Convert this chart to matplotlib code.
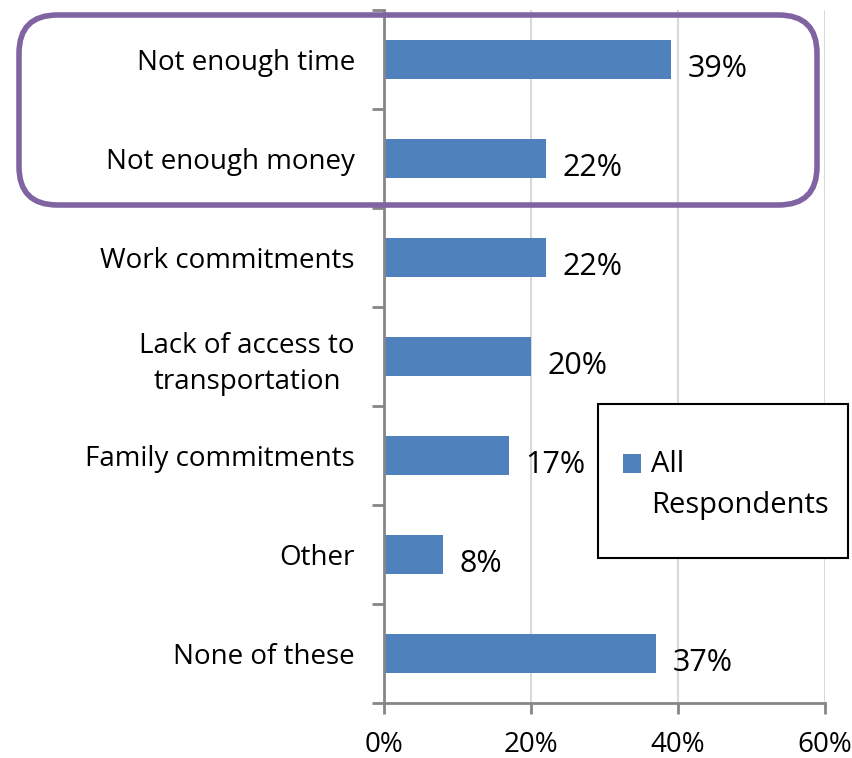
import matplotlib
matplotlib.use("Agg")
import matplotlib.pyplot as plt
from matplotlib.patches import FancyBboxPatch, Rectangle
from matplotlib.ticker import FixedLocator, PercentFormatter

plt.rcParams['font.family'] = ['Open Sans', 'DejaVu Sans']

categories = ["Not enough time", "Not enough money", "Work commitments",
              "Lack of access to\ntransportation", "Family commitments",
              "Other", "None of these"]
values = [39, 22, 22, 20, 17, 8, 37]
xticks = [0, 20, 40, 60]
series_name = "All\nRespondents"

bar_color = "#4f81bd"
axis_color = "#868686"
grid_color = "#d9d9d9"
frame_color = "#8064a2"

W, H = 852, 758
fig = plt.figure(figsize=(W / 100, H / 100), dpi=100)
ax = fig.add_axes([384 / W, 1 - 703 / H, (825 - 384) / W, (703 - 10) / H])

n = len(categories)
ypos = list(range(n))
bars = ax.barh(ypos, values, height=0.4, color=bar_color, label=series_name, zorder=3)
ax.set_ylim(n - 0.5, -0.5)
ax.set_xlim(0, 60)

# category labels without ticks; boundary ticks as minor ticks
ax.set_yticks(ypos)
ax.set_yticklabels(categories, fontsize=20, linespacing=1.4)
ax.tick_params(axis='y', which='major', length=0, pad=21)
ax.yaxis.set_minor_locator(FixedLocator([i - 0.5 for i in range(n + 1)]))
ax.tick_params(axis='y', which='minor', length=9, width=2, color=axis_color)
for lbl in ax.get_yticklabels():
    lbl.set_horizontalalignment('right')
    lbl.set_multialignment('center')

ax.set_xticks(xticks)
ax.xaxis.set_major_formatter(PercentFormatter(decimals=0))
ax.tick_params(axis='x', length=8, width=2, color=axis_color, labelsize=20, pad=12)

ax.grid(axis='x', color=grid_color, linewidth=1.5, zorder=0)
for side in ('top', 'right'):
    ax.spines[side].set_visible(False)
for side in ('left', 'bottom'):
    ax.spines[side].set_color(axis_color)
    ax.spines[side].set_linewidth(2)
    ax.spines[side].set_zorder(4)

for y, v in zip(ypos, values):
    ax.annotate(f"{v}%", xy=(v, y), xytext=(12, -7), textcoords='offset points',
                ha='left', va='center', fontsize=22, zorder=5)

# legend box: white panel with a thin black border, entry placed inside
legend_box = Rectangle((598 / W, 1 - 558 / H), (848 - 598) / W, (558 - 404) / H,
                       transform=fig.transFigure, facecolor='white',
                       edgecolor='black', linewidth=1.5, zorder=8)
fig.add_artist(legend_box)
leg = fig.legend(handles=[bars], labels=[series_name], loc='center left',
                 bbox_to_anchor=(623 / W, 1 - 485 / H), fontsize=21,
                 frameon=False, handlelength=0.62, handleheight=0.62,
                 handletextpad=0.35, borderpad=0, borderaxespad=0)
leg.set_zorder(9)
for t in leg.get_texts():
    t.set_linespacing(1.55)
# keep the swatch level with the first line of the label
handle = leg.legend_handles[0]
handle.set_y(handle.get_y() + 16)

frame = FancyBboxPatch((19 / W, 1 - 205 / H), (817 - 19) / W, (205 - 15) / H,
                       boxstyle="round,pad=0,rounding_size=0.045",
                       transform=fig.transFigure, fill=False,
                       edgecolor=frame_color, linewidth=4, zorder=10,
                       mutation_aspect=W / H)
fig.add_artist(frame)

fig.savefig("out.png", dpi=100)
